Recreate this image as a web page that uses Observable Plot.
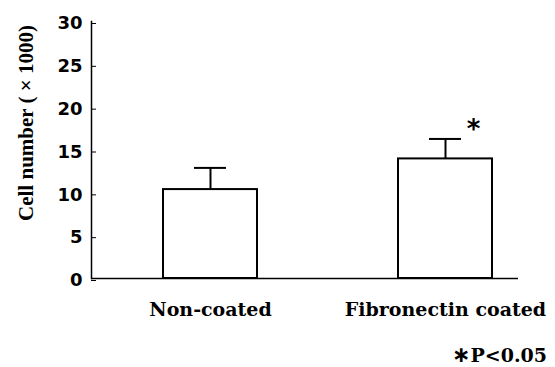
<!DOCTYPE html>
<html><head><meta charset="utf-8">
<script src="https://cdn.jsdelivr.net/npm/d3@7"></script>
<script src="https://cdn.jsdelivr.net/npm/@observablehq/plot@0.6"></script>
<style>
body{margin:0;background:#fff;width:555px;}
#caption{font-family:"DejaVu Serif";font-weight:bold;font-size:19px;text-align:right;padding-right:8px;padding-top:2px;height:25px;line-height:25px;color:#000;}
#caption .ast{font-family:"DejaVu Sans";font-size:22px;}
</style></head><body>
<div id="chart"></div>
<div id="caption"><span class="ast">∗</span>P&lt;0.05</div>
<script>
const categories = ["Non-coated", "Fibronectin coated"];
const means = [10.38, 13.96];
const errors = [2.53, 2.33];
const significance = ["", "*"];
const yTicks = [0, 5, 10, 15, 20, 25, 30];
const yLabel = "Cell number ( × 1000)";

const data = categories.map((c, i) => ({category: c, mean: means[i], err: errors[i], sig: significance[i]}));

const chart = Plot.plot({
  width: 555, height: 340,
  marginLeft: 91, marginRight: 37, marginTop: 21, marginBottom: 62,
  style: {background: "white", color: "black"},
  x: {domain: categories, range: [163, 492], paddingInner: 0.6, paddingOuter: 0},
  y: {domain: [0, 30]},
  marks: [
    Plot.frame({anchor: "left", strokeWidth: 1.5}),
    Plot.ruleY([0], {strokeWidth: 1.5}),
    Plot.barY(data, {x: "category", y: "mean", fill: "white", stroke: "black", strokeWidth: 2}),
    Plot.ruleX(data, {x: "category", y1: "mean", y2: d => d.mean + d.err, strokeWidth: 2}),
    Plot.tickY(data, {x: "category", y: d => d.mean + d.err, insetLeft: 31, insetRight: 31, strokeWidth: 2}),
    Plot.text(data, {x: "category", y: d => d.mean + d.err, text: "sig", dx: 28, dy: -9, fontSize: 26, fontWeight: "bold", fontFamily: "DejaVu Sans"}),
    Plot.axisY({ticks: yTicks, tickSize: -5, tickPadding: 14, label: null, fontSize: 18, fontWeight: "bold", fontFamily: "DejaVu Sans", dy: 2}),
    Plot.axisX({tickSize: 0, tickPadding: 24, label: null, fontSize: 19, fontWeight: "bold", fontFamily: "DejaVu Serif"}),
    Plot.text([yLabel], {frameAnchor: "left", textAnchor: "middle", rotate: -90, dx: -65, dy: -27, fontSize: 21, fontWeight: "bold", fontFamily: "Liberation Serif"})
  ]
});
document.getElementById("chart").appendChild(chart);
</script>
</body></html>
